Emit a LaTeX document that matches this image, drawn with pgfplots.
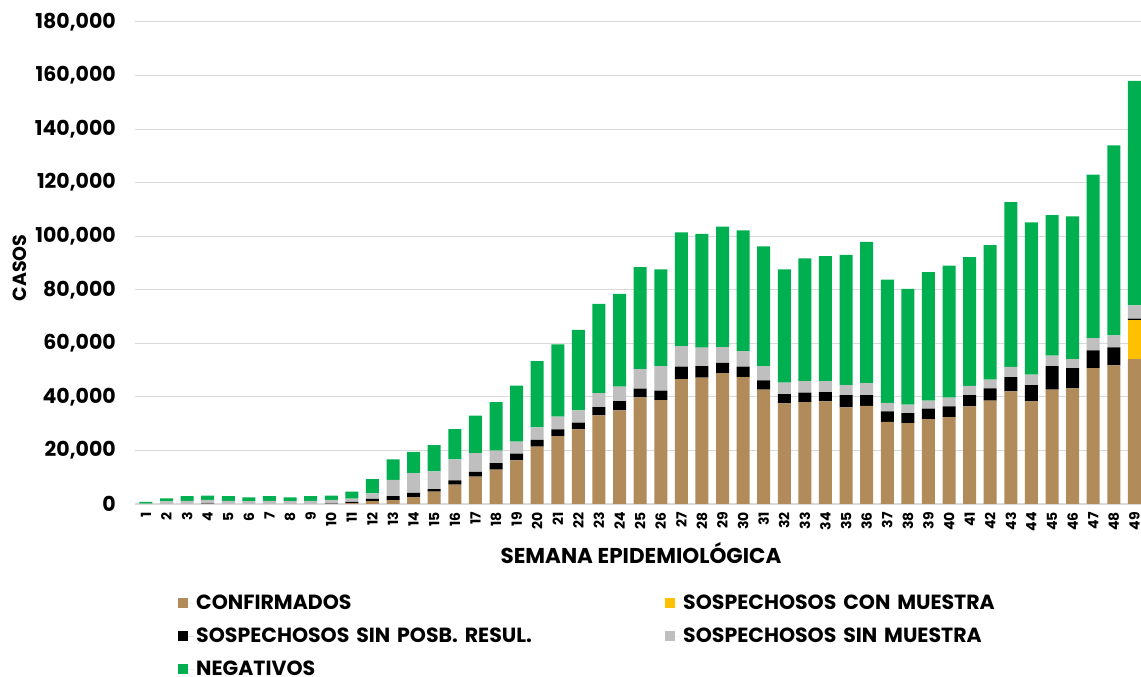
\documentclass[border=0pt]{standalone}
\usepackage{pgfplots}
\usepackage{pgfplotstable}
\pgfplotsset{compat=1.18}
\usepackage{fontspec}
\setmainfont{Poppins}
\definecolor{cbrown}{HTML}{B28B5A}
\definecolor{cyellow}{HTML}{FFC000}
\definecolor{cgray}{HTML}{BFBFBF}
\definecolor{cgreen}{HTML}{00B050}
\definecolor{cgrid}{HTML}{D9D9D9}
\pgfplotstableread{
w cf sy sb sg ng
1 0 0 0 100 700
2 0 0 0 1000 1100
3 0 0 0 1200 1700
4 0 0 100 1400 1600
5 0 0 0 1200 1700
6 0 0 0 1100 1400
7 0 0 0 1200 1700
8 0 0 0 1100 1400
9 0 0 0 1200 1700
10 0 0 100 1400 1600
11 370 0 380 1250 2600
12 1100 0 800 2100 5300
13 1400 0 1500 6100 7700
14 2600 0 1600 7300 8000
15 4600 0 1000 6600 9800
16 7200 0 1600 7900 11300
17 10200 0 1800 7000 14000
18 12800 0 2500 4600 18100
19 16300 0 2500 4500 20900
20 21400 0 2500 4700 24800
21 25300 0 2600 4700 27000
22 27900 0 2500 4600 30000
23 33100 0 3100 5200 33300
24 35000 0 3400 5400 34700
25 39800 0 3300 7300 38100
26 38800 0 3500 9200 36100
27 46600 0 4700 7700 42400
28 47200 0 4300 6900 42500
29 48900 0 3800 5900 45000
30 47400 0 3900 5800 45100
31 42700 0 3500 5300 44700
32 37600 0 3400 4300 42300
33 38000 0 3600 4300 45800
34 38300 0 3500 4100 46700
35 36100 0 4600 3700 48600
36 36600 0 4100 4400 52800
37 30700 0 3900 3200 46000
38 30200 0 3700 3200 43200
39 31700 0 3900 3000 48000
40 32400 0 4100 3200 49300
41 36500 0 4200 3400 48100
42 38600 0 4600 3200 50300
43 42100 0 5300 3800 61500
44 38300 0 6100 3900 56900
45 42700 0 8800 3900 52500
46 43200 0 7500 3400 53300
47 50700 0 6700 4500 61100
48 51800 0 6700 4500 70900
49 54100 14600 500 5000 83800
}\datatable
\begin{document}
\begin{tikzpicture}
\path[use as bounding box] (0pt,0pt) rectangle (1141pt,677pt);
\begin{axis}[
  at={(135pt,173pt)}, anchor=south west,
  scale only axis, width=1006pt, height=482pt,
  ybar stacked, bar width=13pt,
  xmin=0.47, xmax=49.32, ymin=0, ymax=180000,
  xtick={1,2,3,4,5,6,7,8,9,10,11,12,13,14,15,16,17,18,19,20,21,22,23,24,25,26,27,28,29,30,31,32,33,34,35,36,37,38,39,40,41,42,43,44,45,46,47,48,49},
  xticklabels={1,2,3,4,5,6,7,8,9,10,11,12,13,14,15,16,17,18,19,20,21,22,23,24,25,26,27,28,29,30,31,32,33,34,35,36,37,38,39,40,41,42,43,44,45,46,47,48,49},
  ytick={0,20000,40000,60000,80000,100000,120000,140000,160000,180000},
  yticklabels={0,{20,000},{40,000},{60,000},{80,000},{100,000},{120,000},{140,000},{160,000},{180,000}},
  scaled y ticks=false,
  axis lines*=left,
  y axis line style={draw=none},
  x axis line style={draw=cgrid, line width=1.6pt},
  major tick length=0pt,
  ymajorgrids, grid style={draw=cgrid, line width=1pt},
  yticklabel style={font=\bfseries\fontsize{20.5}{22}\selectfont, anchor=east, inner sep=0pt, xshift=-19pt},
  xticklabel style={yshift=-8pt, rotate=90, anchor=east, inner sep=0pt,
     font=\bfseries\fontsize{14}{15}\selectfont},
  xlabel={SEMANA EPIDEMIOLÓGICA},
  xlabel style={at={(axis description cs:0.503,0)}, anchor=center, yshift=-49pt,
     font=\bfseries\fontsize{21.5}{22}\selectfont},
  ylabel={CASOS},
  ylabel style={at={(axis description cs:-0.1143,0.49)}, anchor=center,
     font=\bfseries\fontsize{19}{20}\selectfont},
  legend columns=2,
  legend cell align=left,
  legend style={draw=none, fill=none, at={(axis description cs:0,0)}, anchor=north west,
     xshift=43pt, yshift=-89pt, inner sep=0pt, row sep=13pt,
     font=\bfseries\fontsize{20.5}{22}\selectfont,
     /tikz/every even column/.append style={text width=467pt, align=left, inner sep=2pt}},
  legend image code/.code={\fill[#1] (0pt,-5pt) rectangle (10pt,5pt); \path (0pt,0pt) -- (16pt,0pt);},
]
\addplot[fill=cbrown, draw=none] table[x=w, y=cf] {\datatable};
\addplot[fill=cyellow, draw=none] table[x=w, y=sy] {\datatable};
\addplot[fill=black, draw=none] table[x=w, y=sb] {\datatable};
\addplot[fill=cgray, draw=none] table[x=w, y=sg] {\datatable};
\addplot[fill=cgreen, draw=none] table[x=w, y=ng] {\datatable};
\legend{CONFIRMADOS, SOSPECHOSOS CON MUESTRA, SOSPECHOSOS SIN POSB. RESUL., SOSPECHOSOS SIN MUESTRA, NEGATIVOS}
\end{axis}
\end{tikzpicture}
\end{document}
